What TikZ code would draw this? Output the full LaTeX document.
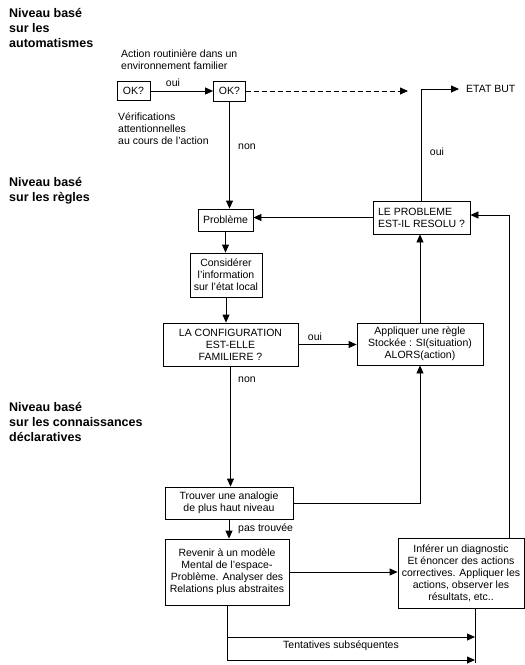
\documentclass[tikz,border=0pt]{standalone}
\usepackage{fontspec}
\setmainfont{Liberation Sans}
\usetikzlibrary{arrows.meta}
\tikzset{
    flow box/.style={
        draw,
        line width=0.8pt,
        align=center,
        font=\fontsize{10.5}{12}\selectfont,
        inner sep=1pt
    },
    flow text/.style={align=left, font=\fontsize{10.5}{12}\selectfont, inner sep=0pt},
    level title/.style={anchor=west, align=left, font=\fontsize{12.5}{15}\selectfont\bfseries, inner sep=0pt},
    flow line/.style={line width=0.8pt},
    flow arrow/.style={flow line, -{Triangle[length=8pt,width=7pt]}},
    flow dashed/.style={flow arrow, dash pattern=on 5pt off 3pt}
}

\begin{document}
\begin{tikzpicture}[x=1pt,y=-1pt]
    \useasboundingbox (0,0) rectangle (525,665);

    \node[level title] (auto) at (9,28) {Niveau basé\\sur les\\automatismes};
    \node[level title] (regles) at (9,190.5) {Niveau basé\\sur les règles};
    \node[level title] (connais) at (9,422) {Niveau basé\\sur les connaissances\\déclaratives};

    \node[flow text, anchor=west] (routine) at (121,59.5) {Action routinière dans un\\environnement familier};
    \node[flow text, anchor=west] (verif) at (118,129) {Vérifications\\attentionnelles\\au cours de l'action};

    \node[flow box, minimum width=33, minimum height=19] (ok1) at (133.5,91) {OK?};
    \node[flow box, minimum width=32, minimum height=20] (ok2) at (229.5,91) {OK?};
    \node[flow text, anchor=west, inner xsep=7pt] (goal) at (459,89) {ETAT BUT};
    \coordinate (dashend) at (408,91);

    \node[flow box, minimum width=55, minimum height=22] (probleme) at (225.5,220) {Problème};
    \node[flow box, align=left, minimum width=97, minimum height=33] (resolu) at (421.5,217.5) {LE PROBLEME\\EST-IL RESOLU ?};
    \node[flow box, minimum width=72, minimum height=44] (considerer) at (226,275) {Considérer\\l'information\\sur l'état local};
    \node[flow box, minimum width=135, minimum height=43] (config) at (230.5,344.5) {LA CONFIGURATION\\EST-ELLE\\FAMILIERE ?};
    \node[flow box, minimum width=126, minimum height=42] (appliquer) at (420,344) {Appliquer une règle\\Stockée : SI(situation)\\ALORS(action)};

    \node[flow box, minimum width=128, minimum height=32] (analogie) at (229,503) {Trouver une analogie\\de plus haut niveau};
    \node[flow box, minimum width=124, minimum height=66] (revenir) at (227,572) {Revenir à un modèle\\Mental de l'espace-\\Problème. Analyser des\\Relations plus abstraites};
    \node[flow box, minimum width=126, minimum height=70] (inferer) at (461,573) {Inférer un diagnostic\\Et énoncer des actions\\correctives. Appliquer les\\actions, observer les\\résultats, etc..};

    \coordinate (retour) at (509,215);
    \coordinate (essai1) at (475,637);
    \coordinate (essai2) at (475,660);
    \coordinate (fin) at (475,663);

    \draw[flow arrow] (ok1.east) -- (ok1.east -| ok2.west);
    \draw[flow dashed] (ok2.east) -- (dashend);
    \draw[flow arrow] (resolu.north) |- (goal.west);
    \draw[flow arrow] (ok2.south) -- (ok2.south |- probleme.north);
    \draw[flow arrow] (resolu.west) -- (resolu.west -| probleme.east);
    \draw[flow arrow] (probleme.south) -- (probleme.south |- considerer.north);
    \draw[flow arrow] (considerer.south) -- (considerer.south |- config.north);
    \draw[flow arrow] (config.east) -- (config.east -| appliquer.west);
    \draw[flow arrow] (appliquer.north) -- (appliquer.north |- resolu.south);
    \draw[flow arrow] (config.south) -- (config.south |- analogie.north);
    \draw[flow arrow] (analogie.east) -| (appliquer.south);
    \draw[flow arrow] (analogie.south) -- (analogie.south |- revenir.north);
    \draw[flow arrow] (revenir.east) -- (revenir.east -| inferer.west);
    \draw[flow arrow] (inferer.north -| retour) -- (retour) -- (retour -| resolu.east);
    \draw[flow line] (revenir.south) -- (revenir.south |- essai2);
    \draw[flow arrow] (revenir.south |- essai1) -- (essai1);
    \draw[flow arrow] (revenir.south |- essai2) -- (essai2);
    \draw[flow line] (fin |- inferer.south) -- (fin);

    \node[flow text] (oui1) at (173,83) {oui};
    \node[flow text] (non1) at (247,147) {non};
    \node[flow text] (oui2) at (437,152) {oui};
    \node[flow text] (oui3) at (315,337) {oui};
    \node[flow text] (non2) at (247,380) {non};
    \node[flow text, anchor=west] (pastrouve) at (238,529) {pas trouvée};
    \node[flow text] (tentatives) at (341,646) {Tentatives subséquentes};
\end{tikzpicture}
\end{document}
